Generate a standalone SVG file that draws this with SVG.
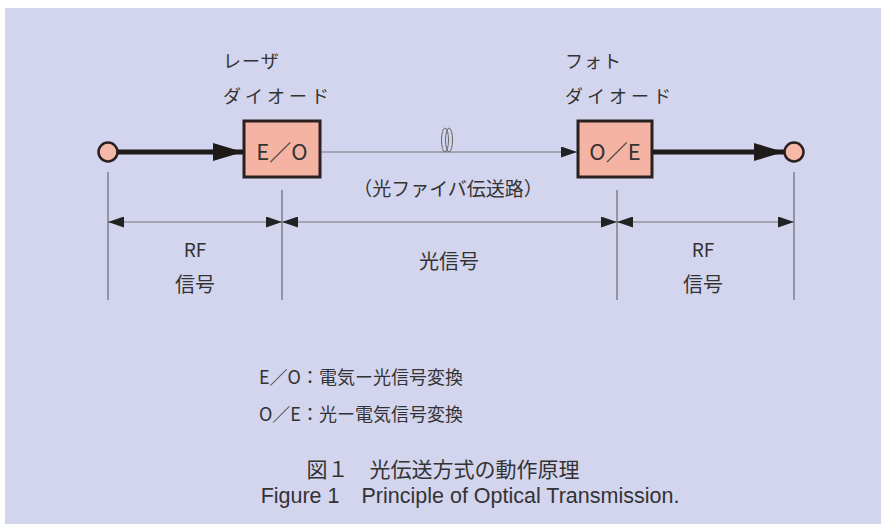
<svg xmlns="http://www.w3.org/2000/svg" width="881" height="524" viewBox="0 0 881 524">
<defs>
<style>
.t{font-family:"Noto Sans CJK JP","Liberation Sans",sans-serif;fill:#333;}
.box{fill:#f5b3a3;stroke:#2a2020;stroke-width:3;}
.thick{stroke:#1e1a1a;stroke-width:5;fill:none;}
.thin{stroke:#777;stroke-width:1.2;fill:none;}
.vl{stroke:#555;stroke-width:1;}
.term{fill:#f6b8a8;stroke:#2a2020;stroke-width:2.5;}
</style>
<marker id="bigT" markerWidth="30" markerHeight="18" refX="30" refY="9" orient="auto" markerUnits="userSpaceOnUse">
<path d="M0,0 L30,9 L0,18 Z" fill="#1e1a1a"/>
</marker>
<marker id="sm" markerWidth="16" markerHeight="11" refX="16" refY="5.5" orient="auto-start-reverse" markerUnits="userSpaceOnUse">
<path d="M0,0 L16,5.5 L0,11 Z" fill="#222"/>
</marker>
</defs>
<rect x="5" y="8" width="876" height="516" fill="#d3d5ee"/>
<g id="connectors">
<line class="thick" x1="117" y1="152" x2="243" y2="152" marker-end="url(#bigT)"/>
<line class="thin" x1="320" y1="152" x2="577" y2="152" marker-end="url(#sm)"/>
<line class="thick" x1="653" y1="152" x2="784" y2="152" marker-end="url(#bigT)"/>
<line class="vl" x1="108" y1="172" x2="108" y2="300"/>
<line class="vl" x1="282" y1="190" x2="282" y2="300"/>
<line class="vl" x1="617" y1="190" x2="617" y2="300"/>
<line class="vl" x1="794" y1="172" x2="794" y2="300"/>
<line class="thin" x1="108" y1="222" x2="282" y2="222" marker-start="url(#sm)" marker-end="url(#sm)"/>
<line class="thin" x1="282" y1="222" x2="617" y2="222" marker-start="url(#sm)" marker-end="url(#sm)"/>
<line class="thin" x1="617" y1="222" x2="794" y2="222" marker-start="url(#sm)" marker-end="url(#sm)"/>
</g>
<g id="fiber">
<ellipse cx="445" cy="140" rx="3.5" ry="12" fill="none" stroke="#666" stroke-width="1"/>
<ellipse cx="449" cy="140" rx="3.5" ry="12" fill="none" stroke="#666" stroke-width="1"/>
<text class="t" x="448" y="196" font-size="19" text-anchor="middle">（光ファイバ伝送路）</text>
</g>
<g id="in-terminal"><circle class="term" cx="108" cy="152" r="9.5"/></g>
<g id="out-terminal"><circle class="term" cx="794" cy="152" r="9.5"/></g>
<g id="eo">
<rect class="box" x="244" y="121" width="76" height="56"/>
<text class="t" x="282" y="160" font-size="22" text-anchor="middle">E／O</text>
<text class="t" x="223" y="68" font-size="18" letter-spacing="1">レーザ</text>
<text class="t" x="223" y="103" font-size="18" letter-spacing="4">ダイオード</text>
</g>
<g id="oe">
<rect class="box" x="578" y="121" width="74" height="56"/>
<text class="t" x="615" y="160" font-size="22" text-anchor="middle">O／E</text>
<text class="t" x="565" y="68" font-size="18" letter-spacing="1">フォト</text>
<text class="t" x="565" y="103" font-size="18" letter-spacing="4">ダイオード</text>
</g>
<g id="labels">
<text class="t" x="195" y="257" font-size="19" text-anchor="middle">RF</text>
<text class="t" x="195" y="292" font-size="20" text-anchor="middle">信号</text>
<text class="t" x="449" y="269" font-size="20" text-anchor="middle">光信号</text>
<text class="t" x="703" y="257" font-size="19" text-anchor="middle">RF</text>
<text class="t" x="703" y="292" font-size="20" text-anchor="middle">信号</text>
</g>
<g id="legend">
<text class="t" x="259" y="384" font-size="18">E／O：電気ー光信号変換</text>
<text class="t" x="259" y="421" font-size="18">O／E：光ー電気信号変換</text>
</g>
<g id="caption">
<text class="t" x="443" y="477" font-size="21" text-anchor="middle">図１　光伝送方式の動作原理</text>
<text x="470" y="503" font-size="21.5" text-anchor="middle" font-family="Liberation Sans, sans-serif" fill="#333">Figure 1　Principle of Optical Transmission.</text>
</g>
</svg>
